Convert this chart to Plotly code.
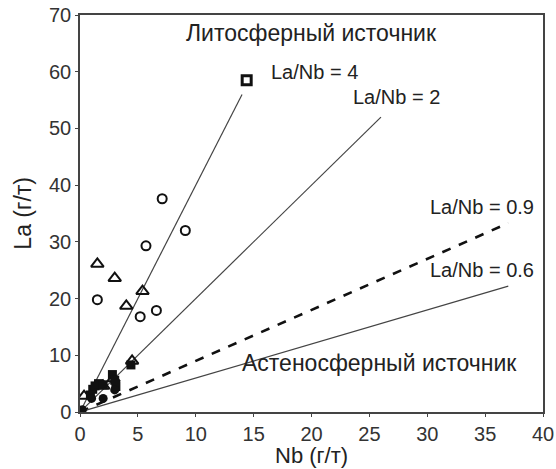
import plotly.graph_objects as go

# Nb and La contents (g/t) by sample group
circle_nb = [1.5, 5.2, 6.6, 5.7, 7.1, 9.1]
circle_la = [19.8, 16.8, 17.9, 29.3, 37.6, 32.0]

triangle_nb = [1.5, 3.0, 4.0, 5.4, 4.5, 0.35, 2.0, 2.9]
triangle_la = [26.1, 23.6, 18.7, 21.3, 9.0, 2.8, 4.6, 5.9]

square_open_nb = [14.4]
square_open_la = [58.5]

filled_square_nb = [0.9, 1.1, 1.3, 1.6, 2.0, 2.8, 3.0, 3.1, 4.4]
filled_square_la = [3.0, 4.0, 4.6, 5.0, 4.8, 6.6, 5.6, 4.5, 8.3]

filled_circle_nb = [0.2, 1.0, 2.0, 3.0]
filled_circle_la = [0.4, 2.4, 2.4, 3.9]

# Reference La/Nb ratios and the Nb extent of each line
ratios = [4, 2, 0.9, 0.6]
ratio_nb_end = [14, 26, 37, 37]
ratio_labels = ["La/Nb = 4", "La/Nb = 2", "La/Nb = 0.9", "La/Nb = 0.6"]
label_pos = [(16.3, 60.0), (23.4, 55.6), (30.1, 36.2), (30.1, 25.0)]

x_ticks = [0, 5, 10, 15, 20, 25, 30, 35, 40]
y_ticks = [0, 10, 20, 30, 40, 50, 60, 70]

FONT = "Liberation Sans, Arial, sans-serif"
INK = "#222222"

fig = go.Figure()

for r, xe in zip(ratios, ratio_nb_end):
    dashed = r == 0.9
    fig.add_trace(go.Scatter(
        x=[0, xe], y=[0, r * xe], mode="lines",
        line=dict(color="#111111" if dashed else "#444444",
                  width=2.6 if dashed else 1.2,
                  dash="dash" if dashed else "solid"),
        hoverinfo="skip", showlegend=False))

fig.add_trace(go.Scatter(
    x=circle_nb, y=circle_la, mode="markers",
    marker=dict(symbol="circle-open", size=9, color="#111111", line=dict(width=2)),
    showlegend=False))
fig.add_trace(go.Scatter(
    x=triangle_nb, y=triangle_la, mode="markers",
    marker=dict(symbol="triangle-up-open", size=11, color="#111111", line=dict(width=2)),
    showlegend=False))
fig.add_trace(go.Scatter(
    x=filled_square_nb, y=filled_square_la, mode="markers",
    marker=dict(symbol="square", size=9, color="#111111"),
    showlegend=False))
fig.add_trace(go.Scatter(
    x=filled_circle_nb, y=filled_circle_la, mode="markers",
    marker=dict(symbol="circle", size=9, color="#111111"),
    showlegend=False))
fig.add_trace(go.Scatter(
    x=square_open_nb, y=square_open_la, mode="markers",
    marker=dict(symbol="square-open", size=9, color="#111111", line=dict(width=3)),
    showlegend=False))

annotations = []
for text, (ax, ay) in zip(ratio_labels, label_pos):
    annotations.append(dict(x=ax, y=ay, xref="x", yref="y", text=text,
                            showarrow=False, xanchor="left", yanchor="middle",
                            font=dict(family=FONT, size=20, color=INK)))
annotations.append(dict(x=20.0, y=66.8, xref="x", yref="y", text="Литосферный источник",
                        showarrow=False, xanchor="center", yanchor="middle",
                        font=dict(family=FONT, size=23, color=INK)))
annotations.append(dict(x=25.9, y=8.6, xref="x", yref="y", text="Астеносферный источник",
                        showarrow=False, xanchor="center", yanchor="middle",
                        font=dict(family=FONT, size=23, color=INK)))
# axis titles
annotations.append(dict(x=0.5, y=-0.1436, xref="paper", yref="paper", text="Nb (г/т)",
                        showarrow=False, xanchor="center", yanchor="bottom", borderpad=0,
                        font=dict(family=FONT, size=22, color=INK)))
annotations.append(dict(x=-0.125, y=0.5, xref="paper", yref="paper", text="La (г/т)",
                        textangle=-90, showarrow=False, xanchor="center", yanchor="middle",
                        font=dict(family=FONT, size=23, color=INK)))

axis_common = dict(
    showgrid=False, zeroline=False, showline=True, mirror=True,
    linecolor="#444444", linewidth=1.5,
    ticks="outside", ticklen=3, tickcolor="#444444",
    tickfont=dict(family=FONT, size=20, color="#333333"),
    automargin=False,
)

fig.update_layout(
    width=556, height=469,
    margin=dict(l=80, r=13, t=15, b=57),
    paper_bgcolor="white", plot_bgcolor="white",
    annotations=annotations,
    xaxis=dict(range=[0, 40], tickvals=x_ticks, ticklabeloverflow="allow", **axis_common),
    yaxis=dict(range=[0, 70], tickvals=y_ticks, ticklabeloverflow="allow", **axis_common),
)

fig.write_html("out.html")
